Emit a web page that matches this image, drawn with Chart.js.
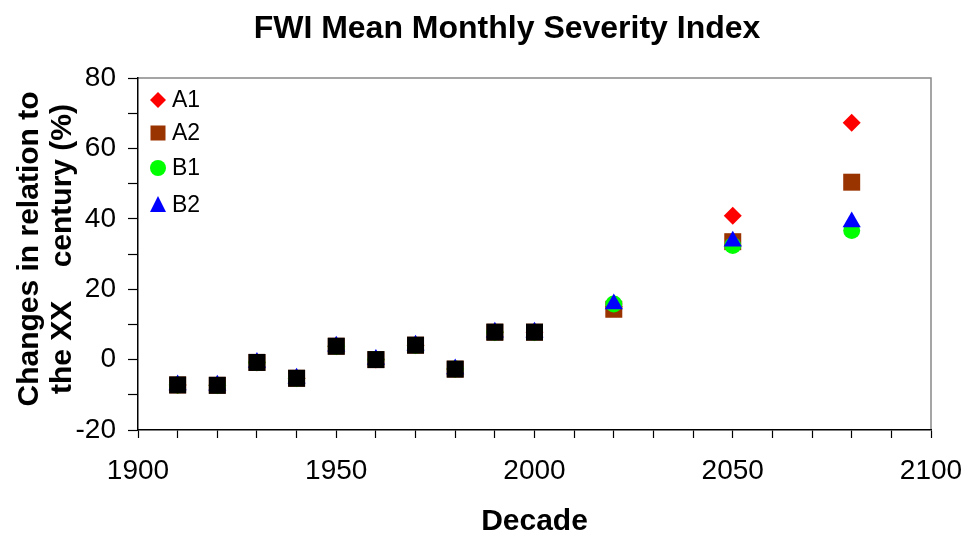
<!DOCTYPE html>
<html>
<head>
<meta charset="utf-8">
<script src="https://cdn.jsdelivr.net/npm/chart.js@4"></script>
<style>
    html, body { margin: 0; padding: 0; background: #fff; }
    #wrap { width: 964px; height: 535px; }
</style>
</head>
<body>
<div id="wrap"><canvas id="fwiChart" width="964" height="535"></canvas></div>
<script>
// decades and values
const pastDecades = [1910, 1920, 1930, 1940, 1950, 1960, 1970, 1980, 1990, 2000];
const pastValues = [-7.2, -7.3, -0.8, -5.3, 3.8, 0, 4.1, -2.7, 7.8, 7.8];
const futureDecades = [2020, 2050, 2080];
const a1Future = [15.0, 40.9, 67.3];
const a2Future = [14.3, 33.5, 50.4];
const b1Future = [15.8, 32.4, 36.7];
const b2Future = [15.8, 33.6, 39.1];
const xTicks = [1900, 1950, 2000, 2050, 2100];
const yTicks = [-20, 0, 20, 40, 60, 80];

const seriesNames = ['A1', 'A2', 'B1', 'B2'];
const seriesColors = ['#ff0000', '#993300', '#00ff00', '#0000ff'];
const seriesShapes = ['rectRot', 'rect', 'circle', 'triangle'];
const seriesRadius = [9, 12, 8.5, 10.5];
const futureSets = [a1Future, a2Future, b1Future, b2Future];

function toPoints(xs, ys) {
    return xs.map((x, i) => ({ x: x, y: ys[i] }));
}

const FONT = '"Liberation Sans", Arial, sans-serif';

const datasets = seriesNames.map((name, i) => ({
    label: name,
    data: toPoints(pastDecades.concat(futureDecades), pastValues.concat(futureSets[i])),
    pointStyle: seriesShapes[i],
    pointRadius: seriesRadius[i],
    backgroundColor: seriesColors[i],
    borderColor: seriesColors[i],
    borderWidth: 0,
    showLine: false,
    order: 4 - i
}));
// observed decades are drawn in black on top
datasets.push({
    label: 'Observed',
    data: toPoints(pastDecades, pastValues),
    pointStyle: 'rect',
    pointRadius: 12,
    backgroundColor: '#000000',
    borderWidth: 0,
    showLine: false,
    order: 0
});

const decorPlugin = {
    id: 'decor',
    beforeDraw(chart) {
        const ctx = chart.ctx;
        ctx.save();
        ctx.fillStyle = '#fff';
        ctx.fillRect(0, 0, chart.width, chart.height);
        const a = chart.chartArea;
        ctx.strokeStyle = '#888';
        ctx.lineWidth = 1.5;
        ctx.beginPath();
        ctx.moveTo(a.left, a.top);
        ctx.lineTo(a.right, a.top);
        ctx.lineTo(a.right, a.bottom);
        ctx.stroke();
        ctx.restore();
    },
    afterDraw(chart) {
        const ctx = chart.ctx;
        const a = chart.chartArea;
        ctx.save();
        ctx.fillStyle = '#000';
        ctx.textAlign = 'center';
        ctx.textBaseline = 'middle';

        ctx.font = 'bold 32px ' + FONT;
        ctx.fillText('FWI Mean Monthly Severity Index', 507, 29);

        ctx.font = 'bold 30px ' + FONT;
        ctx.fillText('Decade', (a.left + a.right) / 2, 522);

        ctx.save();
        ctx.translate(30, 249);
        ctx.rotate(-Math.PI / 2);
        ctx.fillText('Changes in relation to', 0, 0);
        ctx.fillText('the XX    century (%)', 0, 33);
        ctx.restore();

        // legend inside the plot
        const legendY = [100, 133, 168, 205];
        ctx.font = '23px ' + FONT;
        ctx.textAlign = 'left';
        seriesNames.forEach((name, i) => {
            const x = 158, y = legendY[i];
            ctx.fillStyle = seriesColors[i];
            ctx.beginPath();
            if (seriesShapes[i] === 'rectRot') {
                ctx.moveTo(x - 8, y); ctx.lineTo(x, y - 8); ctx.lineTo(x + 8, y); ctx.lineTo(x, y + 8);
            } else if (seriesShapes[i] === 'rect') {
                ctx.rect(x - 7.5, y - 7.5, 15, 15);
            } else if (seriesShapes[i] === 'circle') {
                ctx.arc(x, y, 8, 0, Math.PI * 2);
            } else {
                ctx.moveTo(x, y - 9); ctx.lineTo(x + 8, y + 7); ctx.lineTo(x - 8, y + 7);
            }
            ctx.closePath();
            ctx.fill();
            ctx.fillStyle = '#000';
            ctx.fillText(name, 172, y + 1);
        });
        ctx.restore();
    }
};

new Chart(document.getElementById('fwiChart'), {
    type: 'scatter',
    data: { datasets: datasets },
    options: {
        responsive: false,
        animation: false,
        layout: { padding: { left: 0, top: 78, right: 33, bottom: 0 } },
        plugins: {
            legend: { display: false },
            title: { display: false },
            tooltip: { enabled: false }
        },
        scales: {
            x: {
                type: 'linear',
                min: xTicks[0],
                max: xTicks[xTicks.length - 1],
                afterFit(s) {
                    s.height = 105;
                    s.paddingLeft = 0;
                    s.paddingRight = 0;
                },
                border: { color: '#000', width: 1.5 },
                grid: { drawOnChartArea: false, tickLength: 8, color: '#000', tickWidth: 1.2 },
                ticks: {
                    stepSize: 10,
                    autoSkip: false,
                    maxRotation: 0,
                    padding: 16,
                    color: '#000',
                    font: { family: FONT, size: 28 },
                    callback: v => xTicks.includes(v) ? String(v) : ''
                }
            },
            y: {
                min: yTicks[0],
                max: yTicks[yTicks.length - 1],
                afterFit(s) {
                    s.width = 138;
                    s.paddingTop = 0;
                    s.paddingBottom = 0;
                },
                border: { color: '#000', width: 1.5 },
                grid: { drawOnChartArea: false, tickLength: 10, color: '#000', tickWidth: 1.2 },
                ticks: {
                    stepSize: 10,
                    autoSkip: false,
                    padding: 12,
                    color: '#000',
                    font: { family: FONT, size: 28 },
                    callback: v => yTicks.includes(v) ? String(v) : ''
                }
            }
        }
    },
    plugins: [decorPlugin]
});
</script>
</body>
</html>
